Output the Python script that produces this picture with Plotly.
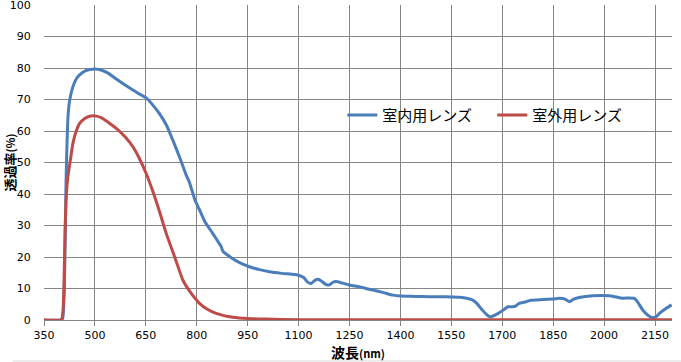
import plotly.graph_objects as go

# --- data ---
indoor_nm = [350, 400, 405, 410, 415, 421, 426, 435, 445, 455, 470, 485, 500, 520, 540, 563, 590, 612, 630, 651,
             670, 690, 710, 730, 750, 769, 779, 795, 808, 825, 847, 865, 872, 877, 890, 905, 926, 955, 985, 1014,
             1050, 1080, 1100, 1115, 1125, 1137, 1147, 1157, 1168, 1180, 1190, 1200, 1210, 1230, 1250, 1280, 1319,
             1350, 1378, 1400, 1440, 1485, 1515, 1550, 1574, 1595, 1613, 1625, 1640, 1655, 1665, 1680, 1691, 1705,
             1716, 1730, 1740, 1750, 1770, 1785, 1820, 1850, 1868, 1885, 1898, 1910, 1930, 1966, 1990, 2015, 2035,
             2054, 2070, 2089, 2097, 2104, 2115, 2129, 2143, 2155, 2163, 2180, 2199]
indoor_val = [0, 0, 0.5, 10, 44, 65, 70, 74, 76.5, 77.8, 79, 79.5, 79.7, 79.3, 78.3, 76.5, 74.5, 73, 71.8, 70.5,
              68.3, 65.5, 62, 57, 51.5, 46, 43.5, 38, 35, 31, 27.5, 24.5, 23.3, 21.8, 20.7, 19.5, 18.2, 16.9, 16, 15.3,
              14.8, 14.5, 14.2, 13.5, 12.2, 11.6, 12.5, 12.9, 12.3, 11.3, 11.1, 11.9, 12.2, 11.7, 11.1, 10.5, 9.5,
              8.7, 7.9, 7.6, 7.5, 7.4, 7.4, 7.3, 7.2, 6.9, 6.3, 5.3, 3.3, 1.6, 1.0, 1.6, 2.3, 3.3,
              4.2, 4.2, 4.5, 5.3, 5.8, 6.3, 6.5, 6.7, 6.9, 6.6, 5.8, 6.6, 7.2, 7.7, 7.8, 7.7, 7.3,
              6.9, 7.0, 6.9, 6.0, 4.8, 3.0, 1.5, 0.7, 1.2, 2.1, 3.5, 4.8]

outdoor_nm = [350, 400, 403, 406, 409, 412, 415, 418, 421, 428, 435, 445, 455, 470, 485, 499, 520, 540, 563, 590,
              612, 630, 651, 670, 690, 710, 735, 759, 780, 808, 830, 857, 880, 906, 950, 1000, 1100, 1300, 1500, 2200]
outdoor_val = [0, 0, 0.5, 3, 12, 28, 38, 43, 46, 51, 56, 60, 62.4, 64, 64.7, 64.8, 64.2, 62.7, 60.8, 58,
               55, 51.5, 46.5, 41, 34.5, 27.5, 20, 12.7, 9, 5.3, 3.5, 2.1, 1.4, 0.9, 0.5, 0.3, 0.1, 0.05, 0.05, 0.1]

x_ticks = [350, 500, 650, 800, 950, 1100, 1250, 1400, 1550, 1700, 1850, 2000, 2150]
y_ticks = [0, 10, 20, 30, 40, 50, 60, 70, 80, 90, 100]

series_names = ["室内用レンズ", "室外用レンズ"]
colors = ["#4a7ebb", "#be4b48"]

fig = go.Figure()
fig.add_trace(go.Scatter(x=indoor_nm, y=indoor_val, mode="lines", name=series_names[0],
                         line=dict(color=colors[0], width=3, shape="spline", smoothing=0.5)))
fig.add_trace(go.Scatter(x=outdoor_nm, y=outdoor_val, mode="lines", name=series_names[1],
                         line=dict(color=colors[1], width=3, shape="spline", smoothing=0.5)))

tick_font = dict(family="DejaVu Sans", size=11, color="#000000")
fig.update_layout(
    width=681, height=362,
    margin=dict(l=44, r=9, t=5, b=42, autoexpand=False),
    paper_bgcolor="white", plot_bgcolor="white",
    showlegend=True,
    legend=dict(orientation="h", x=0.475, y=0.65, xanchor="left", yanchor="middle",
                bgcolor="rgba(0,0,0,0)", font=dict(family="Noto Sans CJK JP", size=15, color="#000000"),
                itemwidth=30, entrywidth=105, entrywidthmode="pixels", tracegroupgap=0),
    xaxis=dict(range=[350, 2200], tickmode="array", tickvals=x_ticks, ticktext=[str(v) for v in x_ticks],
               automargin=False, ticklabeloverflow="allow",
               showgrid=True, gridcolor="#868686", gridwidth=1, zeroline=False,
               showline=True, linecolor="#868686", linewidth=1,
               ticks="outside", ticklen=5, tickcolor="#868686", tickfont=tick_font,
               title=dict(text="<b>波長<span style='font-size:11px'>(nm)</span></b>",
                          font=dict(family="Noto Sans CJK JP", size=14, color="#000000"), standoff=2)),
    yaxis=dict(range=[0, 100], tickmode="array", tickvals=y_ticks, ticktext=[str(v) for v in y_ticks],
               automargin=False, ticklabeloverflow="allow",
               showgrid=True, gridcolor="#868686", gridwidth=1, zeroline=False,
               showline=False, ticks="outside", ticklen=10, tickcolor="rgba(0,0,0,0)", tickfont=tick_font,
               title=dict(text="<b>透過率<span style='font-size:11px'>(%)</span></b>",
                          font=dict(family="Noto Sans CJK JP", size=13, color="#000000"), standoff=2)),
)
# faint chart border at the bottom
fig.add_shape(type="line", xref="paper", yref="paper", x0=-0.05, x1=1.02, y0=-0.13, y1=-0.13,
              line=dict(color="#d9d9d9", width=1))

fig.write_html("out.html", config={"displayModeBar": False},
               post_script="document.body.style.margin='0';document.body.style.padding='0';")
